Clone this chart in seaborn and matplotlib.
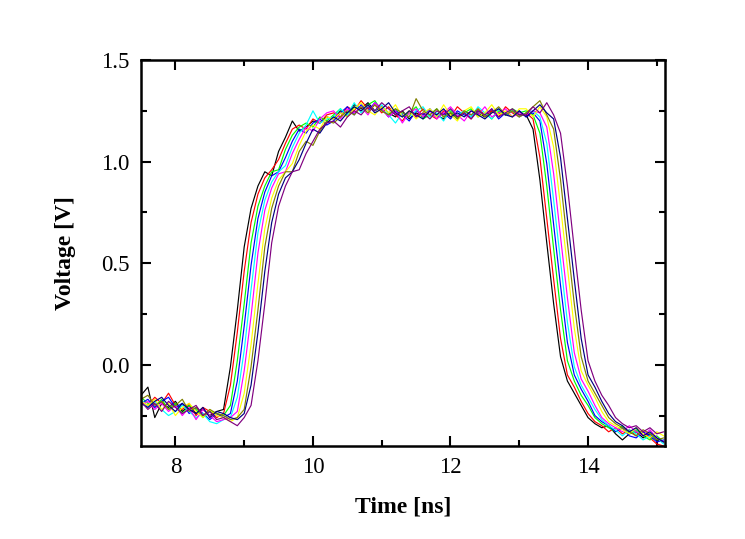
import numpy as np
import pandas as pd
import seaborn as sns
from matplotlib import pyplot as plt
from matplotlib.ticker import MultipleLocator, FormatStrFormatter

# shared time axis (ns), 0.1 ns sampling
time_ns = np.round(np.arange(7.5, 15.15, 0.1), 2)

# voltages [V] for each trace
# segments: baseline 7.5-8.6 | rise 8.7-10.2 | plateau 10.3-13.0 | fall 13.1-14.6 | tail 14.7-15.1
v_black = [-0.15, -0.11, -0.26, -0.19, -0.21, -0.18, -0.23, -0.20, -0.24, -0.22, -0.25, -0.23,
           -0.22, -0.01, 0.27, 0.58, 0.77, 0.88, 0.95, 0.93, 1.05, 1.12, 1.20, 1.15, 1.17, 1.20, 1.19, 1.22,
           1.21, 1.25, 1.24, 1.28, 1.26, 1.29, 1.25, 1.27, 1.24, 1.22, 1.25, 1.21, 1.24, 1.22,
           1.25, 1.23, 1.21, 1.24, 1.22, 1.25, 1.23, 1.24, 1.22, 1.25, 1.24, 1.23, 1.25, 1.23,
           1.23, 1.16, 0.91, 0.60, 0.30, 0.04, -0.08, -0.14, -0.20, -0.26, -0.29, -0.31, -0.30, -0.34, -0.37, -0.34,
           -0.33, -0.36, -0.34, -0.37, -0.38]
v_red = [-0.18, -0.20, -0.16, -0.19, -0.14, -0.20, -0.22, -0.19, -0.25, -0.21, -0.23, -0.26,
         -0.24, -0.10, 0.16, 0.46, 0.70, 0.84, 0.92, 0.96, 1.01, 1.09, 1.16, 1.18, 1.16, 1.21, 1.19, 1.23,
         1.24, 1.22, 1.27, 1.25, 1.30, 1.26, 1.28, 1.24, 1.27, 1.23, 1.20, 1.25, 1.22, 1.26,
         1.23, 1.21, 1.25, 1.22, 1.27, 1.24, 1.21, 1.26, 1.23, 1.25, 1.22, 1.27, 1.24, 1.22,
         1.24, 1.21, 1.02, 0.72, 0.42, 0.13, -0.05, -0.11, -0.18, -0.24, -0.28, -0.30, -0.33, -0.31, -0.34, -0.32,
         -0.35, -0.33, -0.36, -0.39, -0.40]
v_green = [-0.16, -0.19, -0.21, -0.17, -0.22, -0.19, -0.24, -0.20, -0.22, -0.26, -0.23, -0.24,
           -0.25, -0.20, 0.02, 0.30, 0.60, 0.78, 0.88, 0.95, 0.96, 1.06, 1.13, 1.17, 1.19, 1.17, 1.22, 1.20,
           1.23, 1.26, 1.22, 1.27, 1.25, 1.28, 1.30, 1.25, 1.23, 1.26, 1.22, 1.24, 1.27, 1.21,
           1.23, 1.26, 1.22, 1.25, 1.21, 1.24, 1.26, 1.22, 1.24, 1.21, 1.25, 1.23, 1.26, 1.24,
           1.25, 1.23, 1.14, 0.88, 0.57, 0.27, 0.02, -0.08, -0.15, -0.20, -0.26, -0.29, -0.31, -0.33, -0.30, -0.34,
           -0.32, -0.35, -0.37, -0.35, -0.38]
v_blue = [-0.19, -0.17, -0.21, -0.18, -0.16, -0.21, -0.19, -0.24, -0.21, -0.24, -0.27, -0.24,
          -0.26, -0.24, -0.08, 0.19, 0.49, 0.72, 0.85, 0.93, 0.95, 1.02, 1.10, 1.16, 1.14, 1.19, 1.21, 1.18,
          1.20, 1.24, 1.27, 1.23, 1.28, 1.25, 1.29, 1.26, 1.22, 1.25, 1.23, 1.20, 1.25, 1.23,
          1.26, 1.22, 1.24, 1.21, 1.25, 1.23, 1.22, 1.25, 1.23, 1.26, 1.21, 1.24, 1.22, 1.25,
          1.22, 1.24, 1.20, 0.99, 0.69, 0.39, 0.11, -0.05, -0.12, -0.18, -0.25, -0.28, -0.30, -0.33, -0.31, -0.35,
          -0.36, -0.33, -0.35, -0.38, -0.37]
v_cyan = [-0.17, -0.21, -0.18, -0.22, -0.25, -0.23, -0.20, -0.23, -0.26, -0.24, -0.28, -0.29,
          -0.27, -0.26, -0.16, 0.07, 0.37, 0.65, 0.81, 0.90, 0.95, 0.98, 1.07, 1.14, 1.18, 1.25, 1.19, 1.21,
          1.22, 1.26, 1.23, 1.29, 1.24, 1.27, 1.25, 1.28, 1.23, 1.19, 1.24, 1.22, 1.25, 1.27,
          1.22, 1.24, 1.20, 1.26, 1.23, 1.25, 1.22, 1.27, 1.24, 1.21, 1.26, 1.23, 1.25, 1.22,
          1.24, 1.25, 1.22, 1.09, 0.81, 0.51, 0.21, -0.01, -0.10, -0.16, -0.22, -0.27, -0.30, -0.32, -0.35, -0.32,
          -0.34, -0.37, -0.35, -0.36, -0.39]
v_magenta = [-0.20, -0.18, -0.22, -0.19, -0.23, -0.20, -0.25, -0.21, -0.27, -0.22, -0.25, -0.28,
             -0.27, -0.26, -0.23, -0.03, 0.24, 0.55, 0.76, 0.87, 0.94, 0.95, 1.04, 1.11, 1.17, 1.15, 1.21, 1.24,
             1.25, 1.21, 1.26, 1.24, 1.27, 1.23, 1.29, 1.26, 1.22, 1.25, 1.19, 1.24, 1.26, 1.22,
             1.25, 1.21, 1.24, 1.27, 1.23, 1.20, 1.25, 1.23, 1.27, 1.22, 1.24, 1.26, 1.22, 1.24,
             1.23, 1.25, 1.24, 1.17, 0.94, 0.63, 0.33, 0.06, -0.07, -0.13, -0.20, -0.26, -0.29, -0.31, -0.33, -0.30,
             -0.33, -0.35, -0.32, -0.36, -0.38]
v_yellow = [-0.18, -0.20, -0.17, -0.22, -0.19, -0.25, -0.21, -0.19, -0.23, -0.26, -0.22, -0.25,
            -0.26, -0.28, -0.26, -0.14, 0.10, 0.40, 0.67, 0.82, 0.91, 0.95, 0.99, 1.08, 1.15, 1.18, 1.16, 1.22,
            1.21, 1.24, 1.22, 1.26, 1.29, 1.25, 1.23, 1.27, 1.24, 1.28, 1.22, 1.25, 1.21, 1.24,
            1.26, 1.22, 1.28, 1.23, 1.20, 1.25, 1.27, 1.22, 1.24, 1.28, 1.23, 1.25, 1.22, 1.26,
            1.26, 1.22, 1.27, 1.22, 1.07, 0.78, 0.48, 0.18, -0.03, -0.10, -0.16, -0.23, -0.28, -0.30, -0.32, -0.34,
            -0.31, -0.34, -0.36, -0.33, -0.35]
v_olive = [-0.17, -0.15, -0.20, -0.18, -0.22, -0.20, -0.17, -0.23, -0.21, -0.25, -0.22, -0.24,
           -0.25, -0.27, -0.26, -0.22, -0.01, 0.27, 0.58, 0.77, 0.88, 0.95, 0.95, 1.05, 1.10, 1.08, 1.15, 1.20,
           1.19, 1.22, 1.25, 1.23, 1.27, 1.24, 1.28, 1.25, 1.23, 1.26, 1.24, 1.22, 1.31, 1.25,
           1.23, 1.26, 1.22, 1.24, 1.21, 1.25, 1.23, 1.26, 1.22, 1.24, 1.27, 1.23, 1.25, 1.22,
           1.24, 1.27, 1.30, 1.23, 1.16, 0.91, 0.60, 0.30, 0.04, -0.08, -0.14, -0.20, -0.26, -0.29, -0.31, -0.33,
           -0.35, -0.32, -0.34, -0.37, -0.36]
v_navy = [-0.19, -0.21, -0.18, -0.16, -0.20, -0.23, -0.19, -0.22, -0.24, -0.21, -0.26, -0.23,
          -0.24, -0.26, -0.27, -0.24, -0.10, 0.16, 0.46, 0.70, 0.84, 0.92, 0.95, 1.01, 1.09, 1.16, 1.14, 1.19,
          1.22, 1.20, 1.24, 1.27, 1.25, 1.28, 1.24, 1.26, 1.29, 1.24, 1.22, 1.25, 1.23, 1.21,
          1.25, 1.23, 1.26, 1.22, 1.24, 1.22, 1.25, 1.23, 1.21, 1.24, 1.26, 1.23, 1.22, 1.25,
          1.22, 1.25, 1.28, 1.24, 1.21, 1.02, 0.72, 0.42, 0.13, -0.05, -0.11, -0.18, -0.24, -0.28, -0.30, -0.33,
          -0.31, -0.35, -0.33, -0.36, -0.38]
v_purple = [-0.18, -0.22, -0.19, -0.23, -0.18, -0.21, -0.24, -0.22, -0.20, -0.25, -0.23, -0.27,
            -0.26, -0.28, -0.30, -0.26, -0.20, 0.02, 0.30, 0.60, 0.78, 0.88, 0.95, 0.96, 1.04, 1.10, 1.16, 1.19,
            1.20, 1.17, 1.22, 1.25, 1.23, 1.27, 1.25, 1.29, 1.26, 1.23, 1.25, 1.27, 1.22, 1.24,
            1.21, 1.25, 1.23, 1.26, 1.22, 1.24, 1.21, 1.25, 1.23, 1.26, 1.22, 1.24, 1.26, 1.23,
            1.23, 1.27, 1.24, 1.29, 1.23, 1.14, 0.88, 0.57, 0.27, 0.02, -0.08, -0.15, -0.20, -0.26, -0.29, -0.31,
            -0.30, -0.33, -0.31, -0.34, -0.33]

traces = {"black": v_black, "red": v_red, "green": v_green, "blue": v_blue,
          "cyan": v_cyan, "magenta": v_magenta, "yellow": v_yellow,
          "olive": v_olive, "navy": v_navy, "purple": v_purple}
# origin-style default colours
colors = ["#000000", "#FF0000", "#00FF00", "#0000FF", "#00FFFF",
          "#FF00FF", "#FFFF00", "#808000", "#000080", "#800080"]

df = pd.concat([pd.DataFrame({"t": time_ns, "v": vals, "trace": name})
                for name, vals in traces.items()], ignore_index=True)

sns.set_style("ticks")
plt.rcParams["font.family"] = ["Liberation Serif", "DejaVu Serif"]
plt.rcParams["text.color"] = "black"
plt.rcParams["axes.labelcolor"] = "black"
plt.rcParams["axes.edgecolor"] = "black"

fig = plt.figure(figsize=(7.45, 5.39), dpi=100)
ax = fig.add_axes([0.1893, 0.1725, 0.7034, 0.7161])

sns.lineplot(data=df, x="t", y="v", hue="trace", palette=colors,
             estimator=None, sort=False, linewidth=0.85, legend=False, ax=ax)

ax.set_xlim(7.5, 15.12)
ax.set_ylim(-0.4, 1.5)
ax.xaxis.set_major_locator(MultipleLocator(2))
ax.xaxis.set_minor_locator(MultipleLocator(1))
ax.yaxis.set_major_locator(MultipleLocator(0.5))
ax.yaxis.set_minor_locator(MultipleLocator(0.25))
ax.yaxis.set_major_formatter(FormatStrFormatter("%.1f"))

for s in ax.spines.values():
    s.set_visible(True)
    s.set_linewidth(1.8)
    s.set_color("black")
ax.tick_params(which="both", direction="in", top=True, right=True, width=1.5,
               labelsize=16.5, colors="black")
ax.tick_params(which="major", length=7, pad=8)
ax.tick_params(which="minor", length=4)

ax.set_xlabel("Time [ns]", fontsize=17, fontweight="bold", labelpad=13, color="black")
ax.set_ylabel("Voltage [V]", fontsize=17, fontweight="bold", labelpad=18, color="black")

fig.savefig("out.png", dpi=100)
